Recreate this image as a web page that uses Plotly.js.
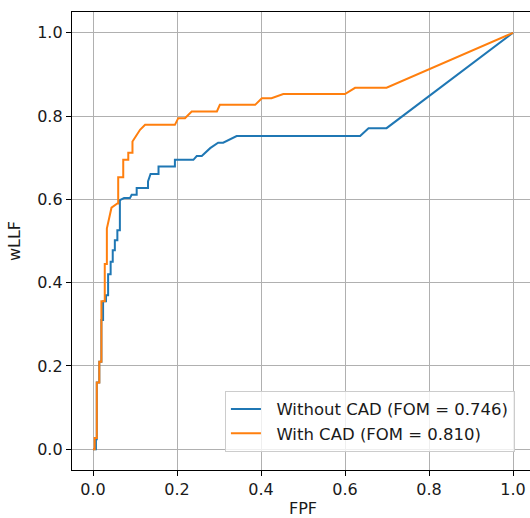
<!DOCTYPE html>
<html>
<head>
<meta charset="utf-8">
<script src="https://cdn.plot.ly/plotly-3.0.1.min.js"></script>
<style>
html, body { margin: 0; padding: 0; overflow: hidden; background: #fff; }
#chart { width: 534px; height: 518px; }
</style>
</head>
<body>
<div id="chart"></div>
<script>
// Data (FPF, wLLF)
const withoutCadName = "Without CAD (FOM = 0.746)";
const withCadName = "With CAD (FOM = 0.810)";

const withoutCadFPF = [0, 0.007, 0.007, 0.009, 0.009, 0.015, 0.015, 0.020, 0.020, 0.024, 0.024, 0.031, 0.031, 0.036, 0.036, 0.042, 0.042, 0.047, 0.047, 0.052, 0.052, 0.058, 0.058, 0.064, 0.064, 0.074, 0.088, 0.092, 0.104, 0.104, 0.131, 0.131, 0.137, 0.156, 0.156, 0.195, 0.195, 0.239, 0.247, 0.259, 0.279, 0.298, 0.310, 0.342, 0.636, 0.656, 0.699, 1.0];
const withoutCadLLF = [0, 0, 0.024, 0.024, 0.16, 0.16, 0.21, 0.21, 0.31, 0.31, 0.355, 0.355, 0.37, 0.37, 0.42, 0.42, 0.45, 0.45, 0.478, 0.478, 0.502, 0.502, 0.526, 0.526, 0.598, 0.603, 0.603, 0.611, 0.611, 0.627, 0.627, 0.643, 0.661, 0.661, 0.679, 0.679, 0.695, 0.695, 0.704, 0.704, 0.723, 0.736, 0.736, 0.752, 0.752, 0.771, 0.771, 1.0];

const withCadFPF = [0, 0.004, 0.004, 0.009, 0.009, 0.015, 0.015, 0.020, 0.020, 0.028, 0.028, 0.033, 0.033, 0.039, 0.044, 0.058, 0.060, 0.060, 0.072, 0.072, 0.084, 0.084, 0.094, 0.094, 0.099, 0.112, 0.124, 0.195, 0.203, 0.219, 0.235, 0.295, 0.302, 0.386, 0.402, 0.425, 0.453, 0.600, 0.624, 0.699, 1.0];
const withCadLLF = [0, 0, 0.027, 0.027, 0.16, 0.16, 0.21, 0.21, 0.355, 0.355, 0.445, 0.445, 0.53, 0.56, 0.58, 0.59, 0.59, 0.653, 0.653, 0.695, 0.695, 0.712, 0.712, 0.739, 0.747, 0.767, 0.779, 0.779, 0.795, 0.795, 0.811, 0.811, 0.827, 0.827, 0.843, 0.843, 0.853, 0.853, 0.868, 0.868, 1.0];

const tickValues = [0, 0.2, 0.4, 0.6, 0.8, 1.0];
const tickLabels = ["0.0", "0.2", "0.4", "0.6", "0.8", "1.0"];

const font = { family: "DejaVu Sans", size: 16, color: "#1a1a1a" };
const legendFont = { family: "DejaVu Sans", size: 16.5, color: "#1a1a1a" };
const legendPad = "\u00a0\u00a0";

const traces = [
  { x: withoutCadFPF, y: withoutCadLLF, mode: "lines", name: legendPad + withoutCadName,
    line: { color: "#1f77b4", width: 2 } },
  { x: withCadFPF, y: withCadLLF, mode: "lines", name: legendPad + withCadName,
    line: { color: "#ff7f0e", width: 2 } }
];

const axisCommon = {
  range: [-0.05, 1.05],
  tickvals: tickValues,
  ticktext: tickLabels,
  ticks: "outside",
  ticklen: 5,
  tickwidth: 1,
  tickcolor: "#000",
  showline: true,
  mirror: true,
  linecolor: "#000",
  linewidth: 1.2,
  showgrid: true,
  gridcolor: "#b0b0b0",
  gridwidth: 1,
  zeroline: false,
  tickfont: font
};

const layout = {
  width: 534,
  height: 518,
  margin: { l: 72, r: 0, t: 12, b: 48 },
  paper_bgcolor: "#fff",
  plot_bgcolor: "#fff",
  font: font,
  showlegend: true,
  xaxis: Object.assign({}, axisCommon, {
    title: { text: "FPF", font: font, standoff: 6 }
  }),
  yaxis: Object.assign({}, axisCommon, {
    title: { text: "wLLF", font: font, standoff: 12 }
  }),
  legend: {
    x: 0.331, y: 0.04, xanchor: "left", yanchor: "bottom",
    bgcolor: "rgba(255,255,255,0.8)",
    bordercolor: "#cccccc",
    borderwidth: 1,
    font: legendFont
  }
};

Plotly.newPlot("chart", traces, layout, { displayModeBar: false, staticPlot: true });
</script>
</body>
</html>
